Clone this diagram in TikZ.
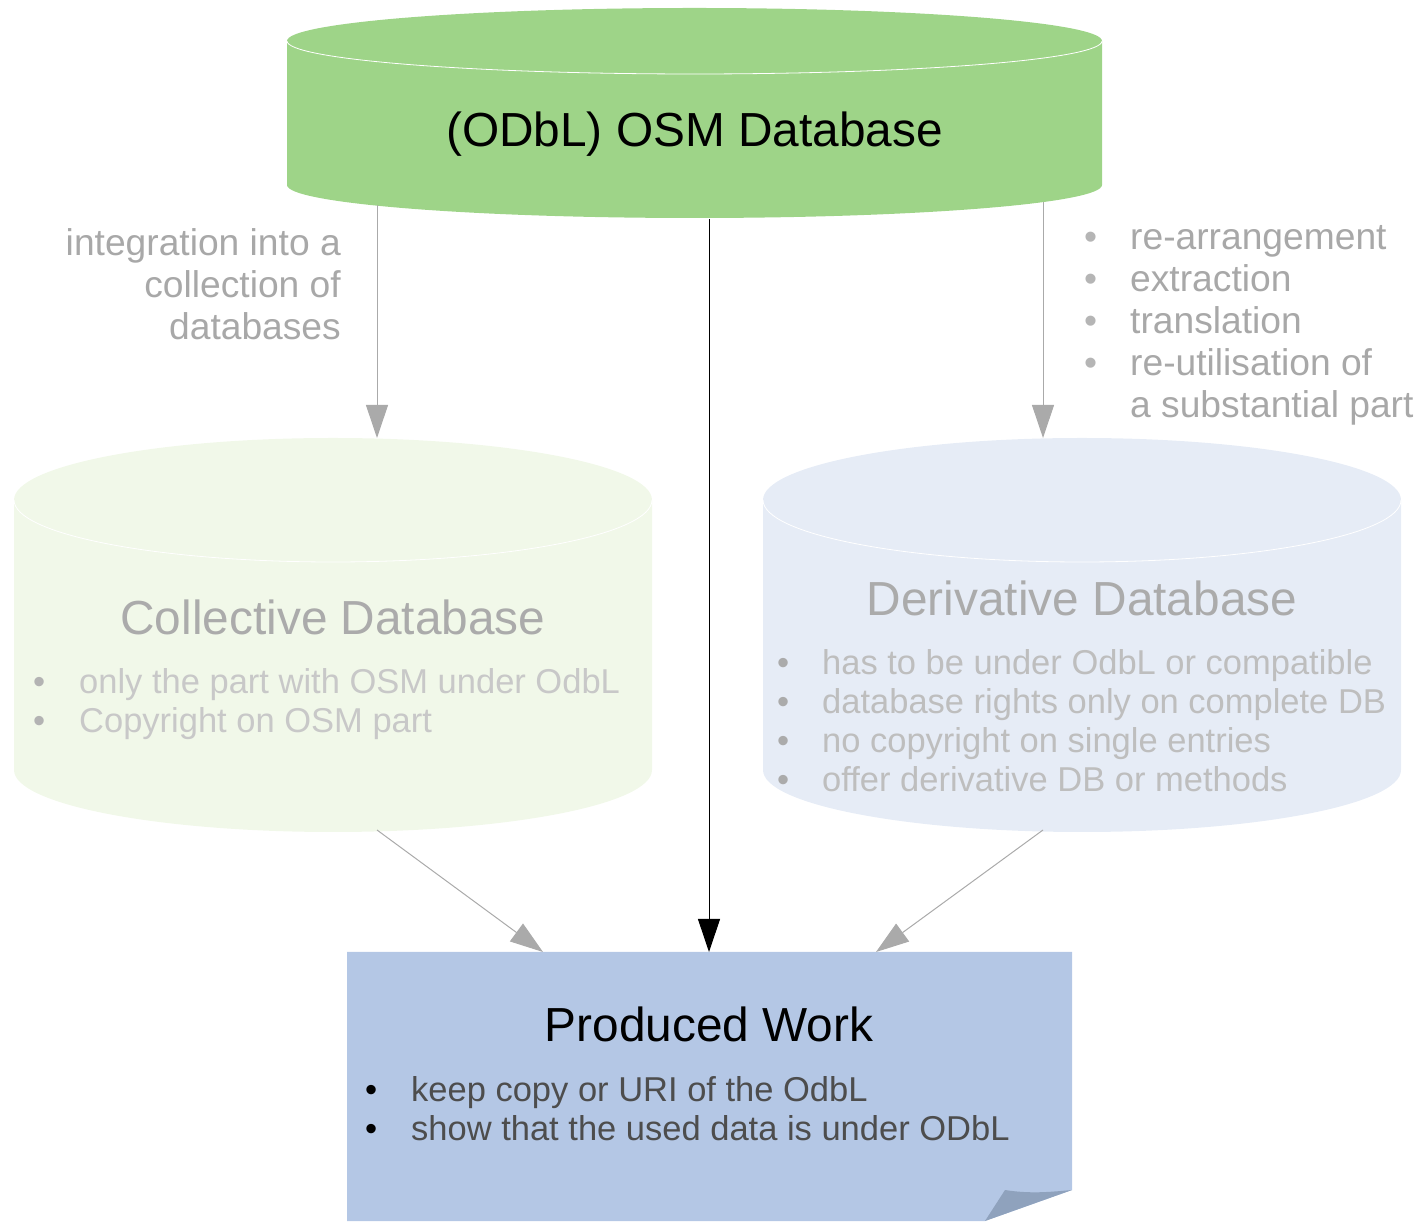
\documentclass[tikz,border=0pt]{standalone}
\usepackage{fontspec}
\setmainfont{Liberation Sans}
\usetikzlibrary{arrows.meta}
\definecolor{osmgreen}{HTML}{9ED488}
\definecolor{collfill}{HTML}{F1F8E9}
\definecolor{derivfill}{HTML}{E6ECF6}
\definecolor{workfill}{HTML}{B4C7E5}
\definecolor{foldfill}{HTML}{8FA2BD}
\definecolor{arrowgrey}{HTML}{AAAAAA}
\definecolor{labelgrey}{HTML}{A8A8A8}
\definecolor{titlegrey}{HTML}{ABABAB}
\definecolor{collbul}{HTML}{C8C8C8}
\definecolor{derivbul}{HTML}{BEBEBE}
\definecolor{worktext}{HTML}{4D4D4D}
\tikzset{
  bigtitle/.style={font=\fontsize{47.8}{57}\selectfont, anchor=base, inner sep=0pt},
  bodyline/.style={font=\fontsize{34.5}{41}\selectfont, anchor=base west, inner sep=0pt},
  sideline/.style={font=\fontsize{37.2}{42}\selectfont, inner sep=0pt},
  greyarrow/.style={draw=arrowgrey, line width=1pt, -{Triangle[length=33pt,width=22pt]}, arrowgrey},
  blackarrow/.style={draw=black, line width=1pt, -{Triangle[length=33pt,width=22pt]}},
}
\begin{document}
\begin{tikzpicture}[x=1pt,y=1pt]
\useasboundingbox (0,0) rectangle (1424,1221);
% ---- top OSM cylinder
\fill[osmgreen] (287,1180) -- (287,1036) arc[start angle=180,end angle=360,x radius=407.5,y radius=33]
  -- (1102,1180) arc[start angle=0,end angle=180,x radius=407.5,y radius=33] -- cycle;
\draw[white, line width=0.8pt] (287,1180) arc[start angle=180,end angle=360,x radius=407.5,y radius=33];
\node[bigtitle] (osm) at (694.5,1074) {(ODbL) OSM Database};
% ---- collective cylinder
\fill[collfill] (14,721) -- (14,451) arc[start angle=180,end angle=360,x radius=319,y radius=62]
  -- (652,721) arc[start angle=0,end angle=180,x radius=319,y radius=62] -- cycle;
\draw[white, line width=0.8pt] (14,721) arc[start angle=180,end angle=360,x radius=319,y radius=62];
\node[bigtitle, text=titlegrey] (colltitle) at (333,586) {Collective Database};
\node[bodyline, text=collbul!85!black!70!collbul] (cb1) at (33,527) {•};
\node[bodyline, text=collbul] (ct1) at (79,527) {only the part with OSM under OdbL};
\node[bodyline, text=collbul!85!black!70!collbul] (cb2) at (33,488) {•};
\node[bodyline, text=collbul] (ct2) at (79,488) {Copyright on OSM part};
% ---- derivative cylinder
\fill[derivfill] (763,721) -- (763,451) arc[start angle=180,end angle=360,x radius=319,y radius=62]
  -- (1401,721) arc[start angle=0,end angle=180,x radius=319,y radius=62] -- cycle;
\draw[white, line width=0.8pt] (763,721) arc[start angle=180,end angle=360,x radius=319,y radius=62];
\node[bigtitle, text=titlegrey] (derivtitle) at (1082,605) {Derivative Database};
\foreach \yy/\tx [count=\i] in {546/has to be under OdbL or compatible, 507/database rights only on complete DB, 468/no copyright on single entries, 429/offer derivative DB or methods}{
  \node[bodyline, text=derivbul!90!black] (db\i) at (777,\yy) {•};
  \node[bodyline, text=derivbul] (dt\i) at (822,\yy) {\tx};
}
% ---- produced work
\fill[workfill] (347,269) -- (1072,269) -- (1072,31) -- (985,0) -- (347,0) -- cycle;
\fill[foldfill] (1005,31) .. controls (1030,27) and (1050,29) .. (1072,31) -- (985,0) -- cycle;
\node[bigtitle] (worktitle) at (709,179) {Produced Work};
\node[bodyline] (wb1) at (365,120) {•};
\node[bodyline, text=worktext] (wt1) at (411,120) {keep copy or URI of the OdbL};
\node[bodyline] (wb2) at (365,81) {•};
\node[bodyline, text=worktext] (wt2) at (411,81) {show that the used data is under ODbL};
% ---- side labels
\node[sideline, text=labelgrey, anchor=base east] (l1) at (341,965) {integration into a};
\node[sideline, text=labelgrey, anchor=base east] (l2) at (341,923) {collection of};
\node[sideline, text=labelgrey, anchor=base east] (l3) at (341,881) {databases};
\foreach \yy/\tx [count=\i] in {971/re-arrangement, 929/extraction, 887/translation, 845/re-utilisation of}{
  \node[sideline, text=labelgrey!85!white, anchor=base west] (rb\i) at (1084,\yy) {•};
  \node[sideline, text=labelgrey, anchor=base west] (rt\i) at (1130,\yy) {\tx};
}
\node[sideline, text=labelgrey, anchor=base west] (rt5) at (1130,803) {a substantial part};
% ---- connector end points
\coordinate (osmL) at (377,1016);
\coordinate (osmC) at (709,1002);
\coordinate (osmR) at (1043,1019);
\coordinate (collT) at (377,783);
\coordinate (derivT) at (1043,783);
\coordinate (collB) at (377,391);
\coordinate (derivB) at (1043,391);
\coordinate (workL) at (543,269);
\coordinate (workC) at (709,269);
\coordinate (workR) at (876,269);
% ---- connectors
\draw[greyarrow] (osmL) -- (collT);
\draw[greyarrow] (osmR) -- (derivT);
\draw[blackarrow] (osmC) -- (workC);
\draw[greyarrow] (collB) -- (workL);
\draw[greyarrow] (derivB) -- (workR);
\end{tikzpicture}
\end{document}
